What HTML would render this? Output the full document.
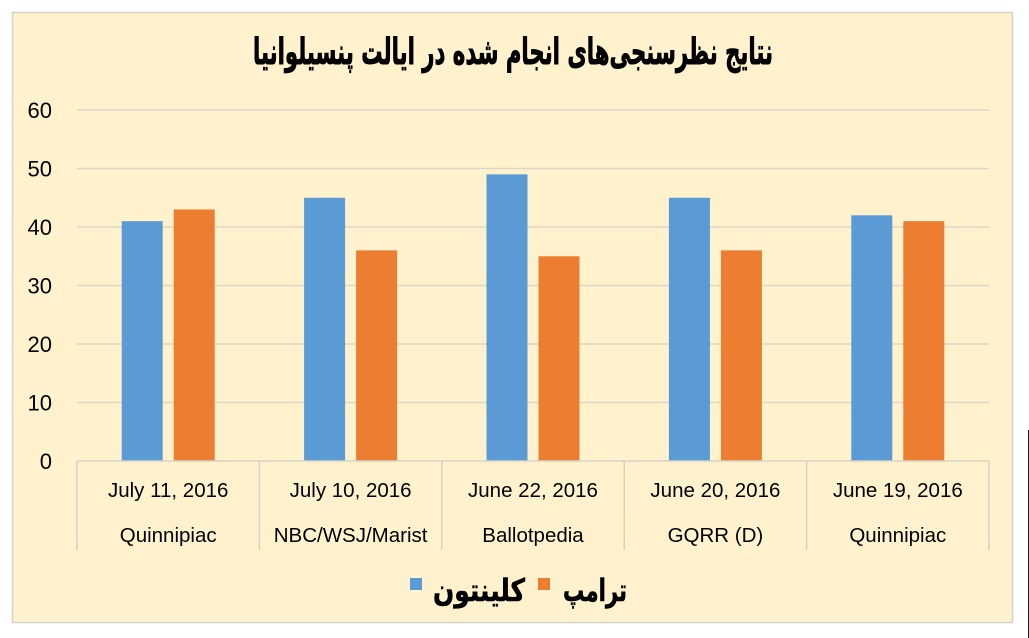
<!DOCTYPE html>
<html>
<head>
<meta charset="utf-8">
<style>
  html, body { margin: 0; padding: 0; background: #ffffff; }
  body { width: 1029px; height: 638px; overflow: hidden; position: relative; }
  svg { display: block; }
</style>
</head>
<body>
<svg width="1029" height="638" viewBox="0 0 1029 638" xmlns="http://www.w3.org/2000/svg">
  <rect x="0" y="0" width="1029" height="638" fill="#ffffff"/>
  <!-- chart area -->
  <rect x="12.5" y="12.5" width="1000" height="610" fill="#FFF2CC" stroke="#d6d1c6" stroke-width="1.5"/>

  <!-- title -->
  <text x="513" y="64" text-anchor="middle" textLength="520" lengthAdjust="spacingAndGlyphs"
        font-family="'DejaVu Sans', sans-serif" font-weight="bold" font-size="36" fill="#000"
        stroke="#000" stroke-width="0.9">نتایج نظرسنجی‌های انجام شده در ایالت پنسیلوانیا</text>

  <!-- gridlines -->
  <g stroke="#dcd6c8" stroke-width="1.5">
    <line x1="77" y1="110" x2="989" y2="110"/>
    <line x1="77" y1="168.5" x2="989" y2="168.5"/>
    <line x1="77" y1="227" x2="989" y2="227"/>
    <line x1="77" y1="285.5" x2="989" y2="285.5"/>
    <line x1="77" y1="344" x2="989" y2="344"/>
    <line x1="77" y1="402.5" x2="989" y2="402.5"/>
  </g>

  <!-- y labels -->
  <g font-family="'Liberation Sans', sans-serif" font-size="22" fill="#000" text-anchor="end">
    <text x="52" y="118">60</text>
    <text x="52" y="176.5">50</text>
    <text x="52" y="235">40</text>
    <text x="52" y="293.5">30</text>
    <text x="52" y="352">20</text>
    <text x="52" y="410.5">10</text>
    <text x="52" y="469">0</text>
  </g>

  <!-- bars -->
  <g>
    <rect x="121.7" y="221.15" width="41" height="239.85" fill="#5B9BD5"/>
    <rect x="173.7" y="209.45" width="41" height="251.55" fill="#ED7D31"/>
    <rect x="304.1" y="197.75" width="41" height="263.25" fill="#5B9BD5"/>
    <rect x="356.1" y="250.4" width="41" height="210.6" fill="#ED7D31"/>
    <rect x="486.5" y="174.35" width="41" height="286.65" fill="#5B9BD5"/>
    <rect x="538.5" y="256.25" width="41" height="204.75" fill="#ED7D31"/>
    <rect x="668.9" y="197.75" width="41" height="263.25" fill="#5B9BD5"/>
    <rect x="720.9" y="250.4" width="41" height="210.6" fill="#ED7D31"/>
    <rect x="851.3" y="215.3" width="41" height="245.7" fill="#5B9BD5"/>
    <rect x="903.3" y="221.15" width="41" height="239.85" fill="#ED7D31"/>
  </g>

  <!-- x axis + category separators -->
  <g stroke="#d6d1c6" stroke-width="1.5">
    <line x1="77" y1="461" x2="989" y2="461"/>
    <line x1="77" y1="461" x2="77" y2="550"/>
    <line x1="259.4" y1="461" x2="259.4" y2="550"/>
    <line x1="441.8" y1="461" x2="441.8" y2="550"/>
    <line x1="624.2" y1="461" x2="624.2" y2="550"/>
    <line x1="806.6" y1="461" x2="806.6" y2="550"/>
    <line x1="989" y1="461" x2="989" y2="550"/>
  </g>

  <!-- x labels -->
  <g font-family="'Liberation Sans', sans-serif" font-size="20.5" fill="#000" text-anchor="middle">
    <text x="168.2" y="497">July 11, 2016</text>
    <text x="350.6" y="497">July 10, 2016</text>
    <text x="533" y="497">June 22, 2016</text>
    <text x="715.4" y="497">June 20, 2016</text>
    <text x="897.8" y="497">June 19, 2016</text>
    <text x="168.2" y="542">Quinnipiac</text>
    <text x="350.6" y="542">NBC/WSJ/Marist</text>
    <text x="533" y="542">Ballotpedia</text>
    <text x="715.4" y="542">GQRR (D)</text>
    <text x="897.8" y="542">Quinnipiac</text>
  </g>

  <!-- legend -->
  <rect x="410" y="578" width="12" height="12" fill="#5B9BD5"/>
  <text x="479" y="601" text-anchor="middle" textLength="92" lengthAdjust="spacingAndGlyphs"
        font-family="'DejaVu Sans', sans-serif" font-weight="bold" font-size="31" fill="#000"
        stroke="#000" stroke-width="0.6">کلینتون</text>
  <rect x="538" y="578" width="12" height="12" fill="#ED7D31"/>
  <text x="595" y="601" text-anchor="middle" textLength="64" lengthAdjust="spacingAndGlyphs"
        font-family="'DejaVu Sans', sans-serif" font-weight="bold" font-size="31" fill="#000"
        stroke="#000" stroke-width="0.6">ترامپ</text>

  <!-- dark edge on far right -->
  <line x1="1028.5" y1="430" x2="1028.5" y2="638" stroke="#222" stroke-width="1"/>
</svg>
</body>
</html>
